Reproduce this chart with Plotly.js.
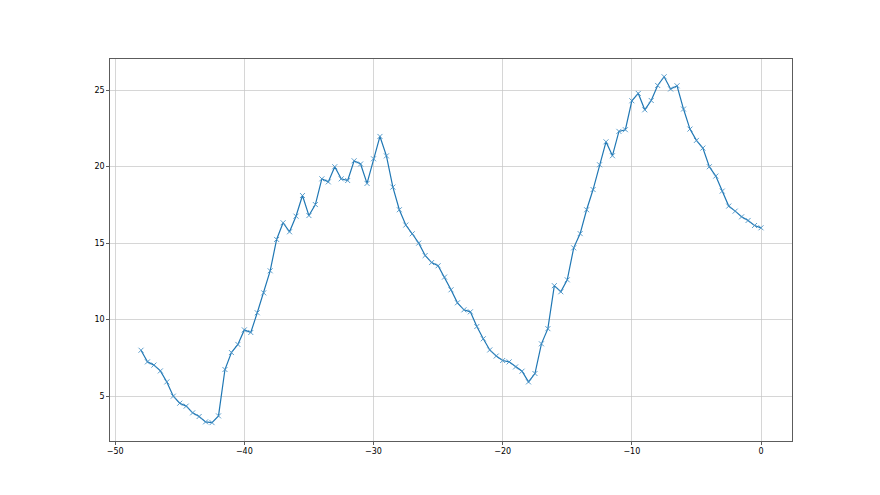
<!DOCTYPE html>
<html>
<head>
<meta charset="utf-8">
<script src="https://cdn.plot.ly/plotly-3.0.1.min.js"></script>
<style>html,body{margin:0;padding:0;background:#fff;}#chart{width:880px;height:495px;}</style>
</head>
<body>
<div id="chart"></div>
<script>
const xValues = [
  -48, -47.5, -47, -46.5, -46, -45.5, -45, -44.5, -44, -43.5,
  -43, -42.5, -42, -41.5, -41, -40.5, -40, -39.5, -39, -38.5,
  -38, -37.5, -37, -36.5, -36, -35.5, -35, -34.5, -34, -33.5,
  -33, -32.5, -32, -31.5, -31, -30.5, -30, -29.5, -29, -28.5,
  -28, -27.5, -27, -26.5, -26, -25.5, -25, -24.5, -24, -23.5,
  -23, -22.5, -22, -21.5, -21, -20.5, -20, -19.5, -19, -18.5,
  -18, -17.5, -17, -16.5, -16, -15.5, -15, -14.5, -14, -13.5,
  -13, -12.5, -12, -11.5, -11, -10.5, -10, -9.5, -9, -8.5,
  -8, -7.5, -7, -6.5, -6, -5.5, -5, -4.5, -4, -3.5,
  -3, -2.5, -2, -1.5, -1, -0.5, 0
];
const yValues = [
  8.0, 7.24, 7.03, 6.65, 5.93, 5.0, 4.54, 4.35, 3.91, 3.67,
  3.32, 3.27, 3.71, 6.74, 7.85, 8.38, 9.33, 9.16, 10.45, 11.75,
  13.19, 15.24, 16.33, 15.74, 16.76, 18.11, 16.8, 17.52, 19.2, 19.0,
  19.99, 19.2, 19.09, 20.38, 20.17, 18.9, 20.51, 21.97, 20.7, 18.66,
  17.18, 16.18, 15.61, 15.0, 14.19, 13.73, 13.52, 12.78, 11.95, 11.1,
  10.64, 10.51, 9.55, 8.75, 8.02, 7.62, 7.33, 7.24, 6.91, 6.63,
  5.93, 6.48, 8.42, 9.41, 12.22, 11.82, 12.6, 14.69, 15.62, 17.18,
  18.5, 20.12, 21.62, 20.71, 22.3, 22.41, 24.3, 24.78, 23.71, 24.32,
  25.3, 25.87, 25.07, 25.28, 23.76, 22.45, 21.71, 21.21, 19.99, 19.38,
  18.4, 17.42, 17.09, 16.72, 16.48, 16.15, 16.0
];
const xTicks = [-50, -40, -30, -20, -10, 0];
const yTicks = [5, 10, 15, 20, 25];

const trace = {
  x: xValues,
  y: yValues,
  type: 'scatter',
  mode: 'lines+markers',
  line: {color: '#1f77b4', width: 1.2},
  marker: {symbol: 'x-thin', size: 5, color: '#4a93c6', line: {color: '#4a93c6', width: 0.9}},
  hoverinfo: 'x+y'
};

const axisCommon = {
  showline: true, mirror: true, linecolor: '#333', linewidth: 0.8,
  showgrid: true, gridcolor: '#c4c4c4', gridwidth: 0.7,
  zeroline: false,
  ticks: 'outside', ticklen: 3, tickwidth: 0.8, tickcolor: '#333',
  tickfont: {family: 'DejaVu Sans', size: 8, color: '#000'}
};

const layout = {
  width: 880, height: 495,
  margin: {l: 110, r: 88, t: 59, b: 54, pad: 0},
  paper_bgcolor: '#fff', plot_bgcolor: '#fff',
  showlegend: false,
  xaxis: Object.assign({}, axisCommon, {range: [-50.4, 2.4], tickmode: 'array', tickvals: xTicks}),
  yaxis: Object.assign({}, axisCommon, {range: [2.07, 27.03], tickmode: 'array', tickvals: yTicks})
};

Plotly.newPlot('chart', [trace], layout, {displayModeBar: false, staticPlot: true});
</script>
</body>
</html>
